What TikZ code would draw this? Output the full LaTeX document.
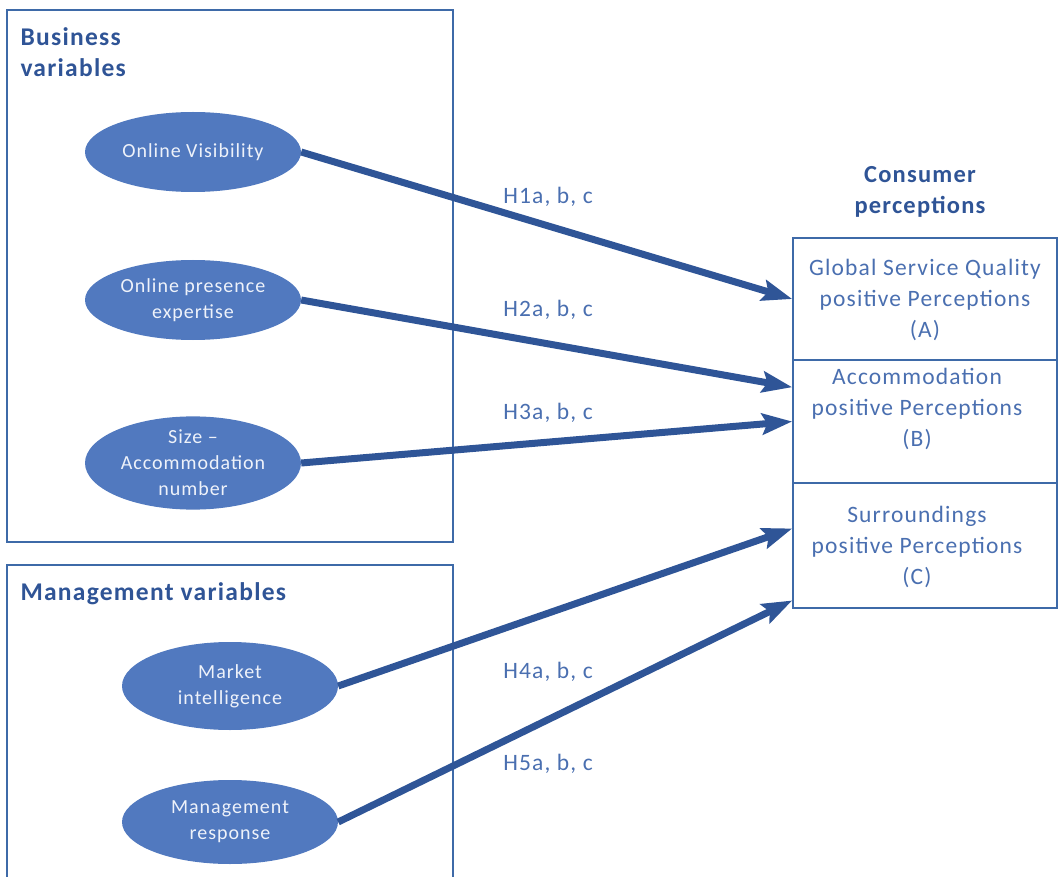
\documentclass[tikz,border=0pt]{standalone}
\usepackage{fontspec}
\setmainfont[LetterSpace=5]{Carlito}
\usetikzlibrary{arrows.meta,shapes.geometric}
\definecolor{ellfill}{HTML}{5179BF}
\definecolor{arrowc}{HTML}{2F5597}
\definecolor{boxline}{HTML}{3E6AA8}
\definecolor{titlec}{HTML}{2F5496}
\definecolor{labc}{HTML}{4A6FB0}
\definecolor{elltext}{HTML}{EEF2FA}
\tikzset{
  x=1pt,y=-1pt,
  ell/.style={ellipse,fill=ellfill,draw=none,minimum width=216pt,align=center,text=elltext,font=\fontsize{20}{26}\selectfont,inner sep=0pt},
  grp/.style={draw=boxline,line width=1.2pt},
  pbox/.style={draw=boxline,line width=1.6pt,rectangle,minimum width=264pt,inner sep=0pt},
  ptext/.style={text=labc,align=center,font=\fontsize{23.5}{31}\selectfont},
  ttl/.style={text=titlec,font=\bfseries\fontsize{25.5}{31}\selectfont,align=left},
  hyp/.style={text=labc,font=\fontsize{23.5}{24}\selectfont},
  conn/.style={draw=arrowc,line width=7pt,-{Stealth[length=30pt,width=21pt,inset=5pt]}}
}
\begin{document}
\begin{tikzpicture}
\useasboundingbox (0,0) rectangle (1060,877);
% group boxes
\draw[grp] (7,10) rectangle (453,542);
\draw[grp] (7,877) -- (7,565) -- (453,565) -- (453,877);
\node[ttl,anchor=north west] (tb) at (17,24) {Business\\variables};
\node[ttl,anchor=west] (tm) at (17,594) {Management variables};
% ellipses
\node[ell,minimum height=80pt] (e1) at (193,152) {Online Visibility};
\node[ell,minimum height=80pt] (e2) at (193,300) {Online presence\\expertise};
\node[ell,minimum height=82pt] (e3) at (193,463) {Size –\\Accommodation\\number};
\node[ell,minimum height=88pt] (e4) at (230,686) {Market\\intelligence};
\node[ell,minimum height=84pt] (e5) at (230,822) {Management\\response};
% perception boxes
\node[pbox,minimum height=122pt] (A) at (925,299) {};
\node[pbox,minimum height=123pt] (B) at (925,421.5) {};
\node[pbox,minimum height=125pt] (C) at (925,545.5) {};
\node[ttl,align=center,font=\bfseries\fontsize{24.5}{31}\selectfont] (tc) at (920,192) {Consumer\\perceptions};
\node[ptext] (tA) at (925,300) {Global Service Quality\\positive Perceptions\\(A)};
\node[ptext] (tB) at (917,409) {Accommodation\\positive Perceptions\\(B)};
\node[ptext] (tC) at (917,547) {Surroundings\\positive Perceptions\\(C)};
% connectors
\draw[conn] (e1.east) -- (A.west);
\draw[conn] (e2.east) -- ([yshift=-28pt]B.north west);
\draw[conn] (e3.east) -- (B.west);
\draw[conn] (e4.east) -- ([yshift=17pt]C.west);
\draw[conn] (e5.east) -- ([yshift=-55pt]C.west);
% labels
\node[hyp] (h1) at (548,197) {H1a, b, c};
\node[hyp] (h2) at (548,310) {H2a, b, c};
\node[hyp] (h3) at (548,413) {H3a, b, c};
\node[hyp] (h4) at (548,672) {H4a, b, c};
\node[hyp] (h5) at (548,764) {H5a, b, c};
\end{tikzpicture}
\end{document}
